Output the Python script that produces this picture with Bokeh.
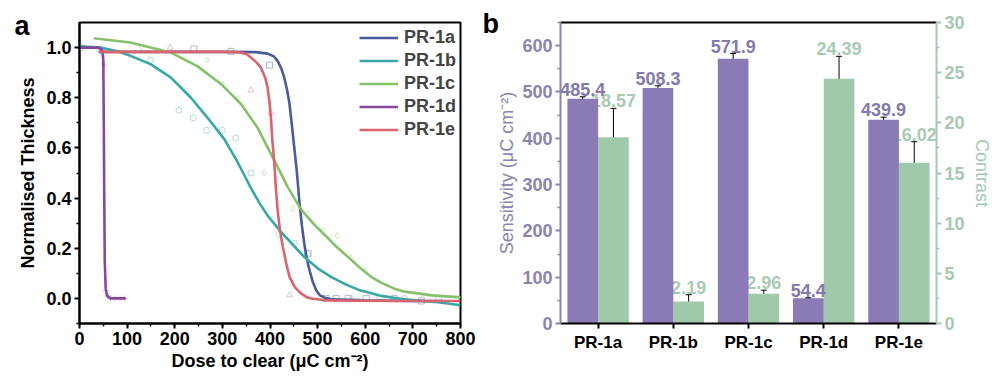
from bokeh.plotting import figure
from bokeh.layouts import row
from bokeh.models import (Range1d, LinearAxis, FixedTicker, SingleIntervalTicker, Legend, LegendItem,
                          Label, Whisker, ColumnDataSource, TeeHead, NumeralTickFormatter)
from bokeh.core.properties import value
from bokeh.embed import file_html
from bokeh.resources import INLINE

FONT = "Liberation Sans"

# ---------------- panel a data ----------------
a_x = [40, 150, 300, 370, 395, 408, 416, 424, 430, 436, 441, 446, 451, 455, 458, 462, 467, 472, 477, 483, 490, 497, 505, 514, 530, 600, 700, 760]
a_y = [0.983, 0.983, 0.983, 0.982, 0.976, 0.965, 0.947, 0.915, 0.88, 0.83, 0.775, 0.69, 0.60, 0.53, 0.47, 0.378, 0.29, 0.218, 0.16, 0.112, 0.065, 0.033, 0.012, 0.004, -0.004, -0.008, -0.01, -0.01]

b_x = [0, 44, 80, 107, 149, 192, 234, 269, 304, 330, 345, 360, 378, 395, 423, 450, 472, 500, 528, 560, 585, 634, 683, 753, 800]
b_y = [1.005, 1.0, 0.985, 0.967, 0.934, 0.88, 0.80, 0.72, 0.635, 0.55, 0.495, 0.44, 0.38, 0.33, 0.265, 0.21, 0.165, 0.12, 0.086, 0.055, 0.035, 0.01, -0.004, -0.015, -0.027]

c_x = [30, 107, 192, 248, 297, 339, 374, 409, 437, 465, 490, 514, 540, 564, 590, 613, 634, 660, 683, 740, 802]
c_y = [1.037, 1.02, 0.98, 0.925, 0.855, 0.775, 0.68, 0.55, 0.445, 0.355, 0.30, 0.255, 0.205, 0.165, 0.12, 0.085, 0.062, 0.04, 0.027, 0.012, 0.004]

d_x = [0, 20, 40, 48, 50, 51, 52, 53, 55, 58, 65, 80, 97]
d_y = [1.0, 1.0, 1.0, 0.99, 0.95, 0.7, 0.4, 0.15, 0.04, 0.01, 0.0, 0.0, 0.0]

e_x = [41, 150, 300, 332, 350, 360, 372, 381, 390, 395, 399, 402, 405, 409, 412, 416, 421, 427, 434, 441, 452, 465, 476, 486, 520, 650, 800]
e_y = [0.983, 0.983, 0.983, 0.982, 0.975, 0.96, 0.94, 0.92, 0.88, 0.84, 0.78, 0.72, 0.63, 0.54, 0.45, 0.351, 0.27, 0.205, 0.14, 0.086, 0.045, 0.02, 0.006, 0.0, -0.008, -0.01, -0.01]

# measured points (faint markers)
a_px = [240, 318, 399, 480, 518, 539, 564, 602, 661, 718]
a_py = [0.995, 0.985, 0.93, 0.18, 0.0, 0.0, 0.0, 0.0, 0.0, -0.01]
b_px = [5, 149, 209, 239, 267, 300, 328, 360, 420, 451, 479, 630, 682, 754]
b_py = [1.0, 0.95, 0.75, 0.72, 0.67, 0.67, 0.64, 0.50, 0.255, 0.22, 0.175, 0.0, 0.0, 0.0]
c_px = [130, 269, 300, 331, 388, 448, 479, 511, 541, 569, 600, 720]
c_py = [1.0, 0.95, 0.855, 0.795, 0.50, 0.36, 0.34, 0.27, 0.25, 0.163, 0.11, 0.0]
d_px = [45, 52, 55, 60, 65, 75, 85, 95]
d_py = [1.0, 0.93, 0.03, 0.01, 0.0, 0.0, 0.0, 0.0]
e_px = [190, 360, 402, 441, 571]
e_py = [1.0, 0.83, 0.74, 0.013, 0.0]

series_names = ["PR-1a", "PR-1b", "PR-1c", "PR-1d", "PR-1e"]

# ---------------- panel b data ----------------
samples = ["PR-1a", "PR-1b", "PR-1c", "PR-1d", "PR-1e"]
sensitivity = [485.4, 508.3, 571.9, 54.4, 439.9]
sensitivity_err = [4.2, 5.0, 11.0, 1.2, 5.6]
contrast = [18.57, 2.19, 2.96, 24.39, 16.02]
contrast_err = [2.87, 0.68, 0.36, 2.24, 2.1]

# ---------------- panel a ----------------
p1 = figure(width=478, height=381, x_range=Range1d(0, 800), y_range=Range1d(-0.1, 1.1),
            output_backend="svg", toolbar_location=None,
            min_border_left=79, min_border_right=18, min_border_top=22, min_border_bottom=58)
p1.grid.visible = False
p1.outline_line_color = "black"
p1.outline_line_width = 2

line_cols = ["#4a5b9b", "#37a8a6", "#86c06b", "#86489b", "#d9646f"]
mark_cols = ["#a9b0cf", "#a3d5d3", "#c5e0b8", "#c7a6d2", "#ebb6ba"]

curves = [(a_x, a_y), (b_x, b_y), (c_x, c_y), (d_x, d_y), (e_x, e_y)]
pts = [(a_px, a_py), (b_px, b_py), (c_px, c_py), (d_px, d_py), (e_px, e_py)]
markers = ["square", "circle", "diamond", "cross", "triangle"]

for (px, py), mk, mc in zip(pts, markers, mark_cols):
    p1.scatter(px, py, marker=mk, size=6, fill_color=None, line_color=mc, line_width=0.9)

rends = []
for (cx, cy), col in zip(curves, line_cols):
    r = p1.line(cx, cy, line_color=col, line_width=2.6)
    rends.append(r)

legend = Legend(items=[LegendItem(label=n, renderers=[r]) for n, r in zip(series_names, rends)],
                location="top_right", margin=4, padding=3, spacing=0,
                glyph_width=39, glyph_height=23, label_height=23, label_standoff=6,
                label_text_font=FONT, label_text_font_style="bold", label_text_font_size="18px",
                background_fill_alpha=0, border_line_color=None)
p1.add_layout(legend)

xa = p1.xaxis[0]
xa.ticker = SingleIntervalTicker(interval=100, num_minor_ticks=2)
ya = p1.yaxis[0]
ya.ticker = FixedTicker(ticks=[0.0, 0.2, 0.4, 0.6, 0.8, 1.0], minor_ticks=[-0.1, 0.1, 0.3, 0.5, 0.7, 0.9])
ya.formatter = NumeralTickFormatter(format="0.0")
xa.axis_label = "Dose to clear (\u03bcC cm\u207b\u00b2)"
ya.axis_label = "Normalised Thickness"
for ax in (xa, ya):
    ax.axis_line_width = 2
    ax.axis_line_color = "black"
    ax.major_tick_line_width = 2
    ax.minor_tick_line_width = 1.5
    ax.major_tick_in = 0
    ax.major_tick_out = 5
    ax.minor_tick_in = 0
    ax.minor_tick_out = 3
    ax.major_label_text_font = FONT
    ax.major_label_text_font_style = "bold"
    ax.major_label_text_font_size = "18px"
    ax.major_label_text_color = "black"
    ax.axis_label_text_font = FONT
    ax.axis_label_text_font_style = "bold"
    ax.axis_label_text_font_size = "18px"
    ax.axis_label_text_color = "black"
    ax.major_label_standoff = 3
    ax.axis_label_standoff = 3
ya.axis_label_standoff = 5

# panel letter in the outer left side panel (not clipped to the frame)
p1.add_layout(Label(x=14, y=298, x_units="screen", y_units="screen", text="a", text_font=FONT,
                    text_font_style="bold", text_font_size="27px", text_baseline="alphabetic",
                    text_color="black"), "left")

# ---------------- panel b ----------------
PURPLE = "#8a7bb7"
GREEN = "#a0c9ab"
PURPLE_TXT = "#8279ad"
GREEN_TXT = "#a9cab3"
PURPLE_AX = "#8a84ae"
GREEN_AX = "#a6c8b0"

p2 = figure(width=516, height=381, x_range=Range1d(0, 5), y_range=Range1d(0, 650),
            output_backend="svg", toolbar_location=None,
            min_border_left=80, min_border_right=56, min_border_top=21, min_border_bottom=54)
p2.grid.visible = False
p2.outline_line_color = None
p2.extra_y_ranges = {"c": Range1d(0, 30)}

n = len(samples)
centers = [i + 0.5 for i in range(n)]
off = 0.204
bw = 0.408
xp = [c - off for c in centers]
xg = [c + off for c in centers]

src_p = ColumnDataSource(dict(x=xp, top=sensitivity, lo=[v - e for v, e in zip(sensitivity, sensitivity_err)],
                              hi=[v + e for v, e in zip(sensitivity, sensitivity_err)],
                              lbl=[str(v) for v in sensitivity]))
src_g = ColumnDataSource(dict(x=xg, top=contrast, lo=[v - e for v, e in zip(contrast, contrast_err)],
                              hi=[v + e for v, e in zip(contrast, contrast_err)],
                              lbl=[str(v) for v in contrast]))

# green bars + labels first (purple bars overlap the labels slightly, as in the reference)
p2.vbar(x="x", top="top", bottom=0, width=bw, source=src_g, fill_color=GREEN, line_color=None, y_range_name="c")
p2.text(x="x", y="hi", text="lbl", source=src_g, y_range_name="c", text_align="center", text_baseline="bottom",
        y_offset=-1, text_font=value(FONT), text_font_style="bold", text_font_size="18px", text_color=GREEN_TXT)
p2.add_layout(Whisker(base="x", lower="lo", upper="hi", source=src_g, y_range_name="c",
                      line_color="black", line_width=1,
                      lower_head=TeeHead(size=6, line_color="black", line_width=1),
                      upper_head=TeeHead(size=6, line_color="black", line_width=1)))

p2.vbar(x="x", top="top", bottom=0, width=bw, source=src_p, fill_color=PURPLE, line_color=None)
p2.add_layout(Whisker(base="x", lower="lo", upper="hi", source=src_p,
                      line_color="black", line_width=1,
                      lower_head=TeeHead(size=6, line_color="black", line_width=1),
                      upper_head=TeeHead(size=6, line_color="black", line_width=1)))
p2.text(x="x", y="hi", text="lbl", source=src_p, text_align="center", text_baseline="bottom",
        y_offset=-1, text_font=value(FONT), text_font_style="bold", text_font_size="18px", text_color=PURPLE_TXT)

# bottom axis
bx = p2.xaxis[0]
bx.ticker = FixedTicker(ticks=centers, minor_ticks=[])
bx.major_label_overrides = {c: s for c, s in zip(centers, samples)}
bx.axis_line_color = "black"
bx.axis_line_width = 2
bx.major_tick_line_width = 2
bx.major_tick_in = 0
bx.major_tick_out = 5
bx.major_label_text_font = FONT
bx.major_label_text_font_style = "bold"
bx.major_label_text_font_size = "17px"
bx.major_label_text_color = "black"
bx.major_label_standoff = 4

# top black line
top_ax = LinearAxis(ticker=FixedTicker(ticks=[]), axis_line_color="black", axis_line_width=2,
                    major_tick_line_color=None, minor_tick_line_color=None,
                    major_label_text_font_size="0px")
p2.add_layout(top_ax, "above")

# left axis
ly = p2.yaxis[0]
ly.ticker = FixedTicker(ticks=[0, 100, 200, 300, 400, 500, 600], minor_ticks=[50, 150, 250, 350, 450, 550, 650])
ly.axis_label = "Sensitivity (\u03bcC cm\u207b\u00b2)"

# right axis
ry = LinearAxis(y_range_name="c", ticker=FixedTicker(ticks=[0, 5, 10, 15, 20, 25, 30],
                                                     minor_ticks=[2.5, 7.5, 12.5, 17.5, 22.5, 27.5]),
                axis_label="Contrast")
p2.add_layout(ry, "right")

for ax, col in ((ly, PURPLE_AX), (ry, GREEN_AX)):
    ax.axis_line_color = col
    ax.axis_line_width = 2
    ax.major_tick_line_color = col
    ax.minor_tick_line_color = col
    ax.major_tick_line_width = 2
    ax.minor_tick_line_width = 1.5
    ax.major_tick_in = 0
    ax.major_tick_out = 5
    ax.minor_tick_in = 0
    ax.minor_tick_out = 3
    ax.major_label_text_font = FONT
    ax.major_label_text_font_style = "bold"
    ax.major_label_text_font_size = "18px"
    ax.major_label_text_color = col
    ax.major_label_standoff = 3
    ax.axis_label_text_font = FONT
    ax.axis_label_text_font_style = "normal"
    ax.axis_label_text_font_size = "18px"
    ax.axis_label_text_color = col
    ax.axis_label_standoff = 4
ly.axis_label_standoff = 2

p2.add_layout(Label(x=4, y=300, x_units="screen", y_units="screen", text="b", text_font=FONT,
                    text_font_style="bold", text_font_size="27px", text_baseline="alphabetic",
                    text_color="black"), "left")

layout = row(p1, p2)
open("out.html", "w").write(file_html(layout, INLINE))
